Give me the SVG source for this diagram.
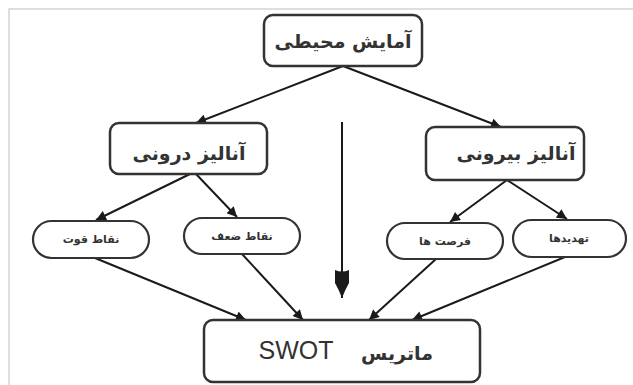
<svg xmlns="http://www.w3.org/2000/svg" width="633" height="385" viewBox="0 0 633 385">
<defs>
<marker id="ah" viewBox="0 0 10 10" refX="10" refY="5" markerWidth="11" markerHeight="10" markerUnits="userSpaceOnUse" orient="auto">
<path d="M0,0 L10,5 L0,10 Z" fill="#1a1a1a"/>
</marker>
<marker id="big" viewBox="0 0 18 32" refX="9" refY="30" markerWidth="18" markerHeight="32" markerUnits="userSpaceOnUse" orient="0">
<path d="M2,2 Q9,5 16,2 L16,15 Q12,22 9,30 Q6,22 2,15 Z" fill="#1a1a1a"/>
</marker>
</defs>
<style>
.box{fill:#fff;stroke:#333;stroke-width:2.5}
.pill{fill:#fff;stroke:#333;stroke-width:2.2}
.t{font-family:"DejaVu Sans",sans-serif;fill:#333;text-anchor:middle}
.big{font-size:19px;font-weight:bold}
.small{font-size:11px;font-weight:bold}
.c{stroke:#1a1a1a;stroke-width:2;fill:none}
</style>
<rect width="633" height="385" fill="#fff"/>
<path d="M9,385 V9 H633" fill="none" stroke="#d4d4d4" stroke-width="1.5"/>
<g id="connectors">
<line class="c" x1="343" y1="66" x2="196" y2="123" marker-end="url(#ah)"/>
<line class="c" x1="343" y1="66" x2="501" y2="127" marker-end="url(#ah)"/>
<line class="c" x1="190" y1="174" x2="96" y2="220" marker-end="url(#ah)"/>
<line class="c" x1="196" y1="174" x2="237" y2="217" marker-end="url(#ah)"/>
<line class="c" x1="507" y1="180" x2="450" y2="222" marker-end="url(#ah)"/>
<line class="c" x1="507" y1="180" x2="567" y2="219" marker-end="url(#ah)"/>
<line class="c" x1="95" y1="258" x2="246" y2="320" marker-end="url(#ah)"/>
<line class="c" x1="242" y1="254" x2="303" y2="320" marker-end="url(#ah)"/>
<line class="c" x1="436" y1="259" x2="369" y2="320" marker-end="url(#ah)"/>
<line class="c" x1="565" y1="257" x2="412" y2="320" marker-end="url(#ah)"/>
<line class="c" x1="342" y1="122" x2="342" y2="298" stroke-width="2.5" marker-end="url(#big)"/>
</g>
<g id="n-top">
<rect class="box" x="264" y="15" width="158" height="51" rx="9"/>
<text class="t big" x="343" y="48">آمایش محیطی</text>
</g>
<g id="n-internal">
<rect class="box" x="110" y="123" width="157" height="51" rx="9"/>
<text class="t big" x="189" y="160">آنالیز درونی</text>
</g>
<g id="n-external">
<rect class="box" x="426" y="127" width="158" height="53" rx="9"/>
<text class="t big" x="516" y="160">آنالیز بیرونی</text>
</g>
<g id="n-strengths">
<rect class="pill" x="33" y="221" width="116" height="37" rx="18.5"/>
<text class="t small" x="91" y="243">نقاط قوت</text>
</g>
<g id="n-weaknesses">
<rect class="pill" x="184" y="218" width="116" height="36" rx="18"/>
<text class="t small" x="242" y="240">نقاط ضعف</text>
</g>
<g id="n-opportunities">
<rect class="pill" x="387" y="223" width="116" height="36" rx="18"/>
<text class="t small" x="445" y="245">فرصت ها</text>
</g>
<g id="n-threats">
<rect class="pill" x="513" y="220" width="113" height="37" rx="18.5"/>
<text class="t small" x="569" y="242">تهدیدها</text>
</g>
<g id="n-swot">
<rect class="box" x="204" y="320" width="276" height="62" rx="9"/>
<text class="t" x="296" y="359" font-size="25" style="font-family:'Liberation Sans',sans-serif">SWOT</text>
<text class="t big" x="397" y="360">ماتریس</text>
</g>
</svg>
